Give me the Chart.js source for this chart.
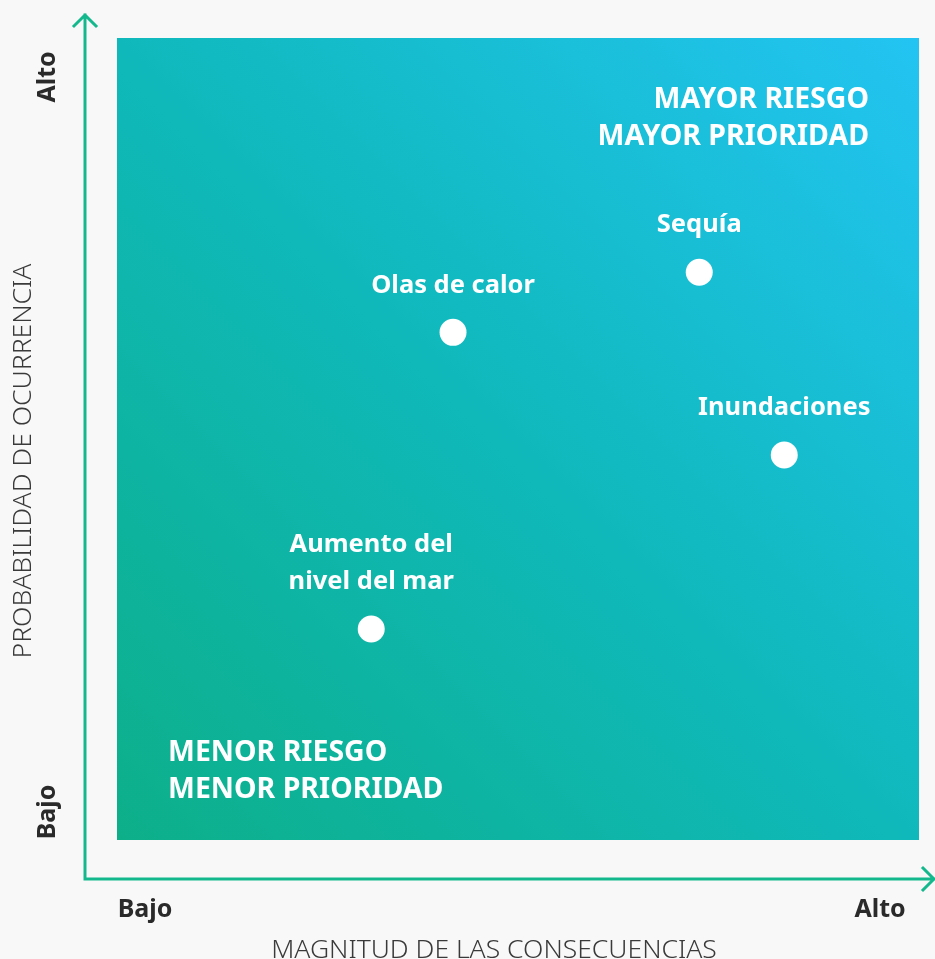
<!DOCTYPE html>
<html>
<head>
<meta charset="utf-8">
<script src="https://cdn.jsdelivr.net/npm/chart.js@4.4.1/dist/chart.umd.min.js"></script>
<style>
html,body{margin:0;padding:0;background:#f8f8f8;}
#wrap{width:935px;height:959px;}
</style>
</head>
<body>
<div id="wrap"><canvas id="riskChart" width="935" height="959"></canvas></div>
<script>
// riesgos: magnitud (x) y probabilidad (y), escala 0-100
const riesgos=[["Sequía"],["Olas de calor"],["Inundaciones"],["Aumento del","nivel del mar"]];
const magnitud=[72.6,41.9,83.2,31.7];
const probabilidad=[70.8,63.3,48.0,26.3];
const extremos=["Bajo","Alto"];
const tituloX="MAGNITUD DE LAS CONSECUENCIAS";
const tituloY="PROBABILIDAD DE OCURRENCIA";
const zonaAlta=["MAYOR RIESGO","MAYOR PRIORIDAD"];
const zonaBaja=["MENOR RIESGO","MENOR PRIORIDAD"];

const FONT='"Noto Sans", "DejaVu Sans", sans-serif';
const VERDE="#13b88c";

const fondo={
id:"fondo",
beforeDatasetsDraw(c){
const a=c.chartArea,ctx=c.ctx;
const g=ctx.createLinearGradient(a.left,a.bottom,a.right,a.top);
g.addColorStop(0,"#0daf89");
g.addColorStop(0.5,"#0fb9bb");
g.addColorStop(1,"#23c4f2");
ctx.save();
ctx.fillStyle=g;
ctx.fillRect(a.left,a.top,a.right-a.left,a.bottom-a.top);
ctx.restore();
}
};

const ejes={
id:"ejes",
afterDraw(c){
const a=c.chartArea,ctx=c.ctx;
const ox=85,oy=879;
ctx.save();
ctx.strokeStyle=VERDE;ctx.lineWidth=3;ctx.lineCap="square";
ctx.beginPath();
ctx.moveTo(ox,oy);ctx.lineTo(ox,15);
ctx.moveTo(ox-11,26);ctx.lineTo(ox,15);ctx.lineTo(ox+11,26);
ctx.moveTo(ox,oy);ctx.lineTo(934,oy);
ctx.moveTo(923,oy-11);ctx.lineTo(934,oy);ctx.lineTo(923,oy+11);
ctx.stroke();

// extremos de los ejes
ctx.fillStyle="#2a2a2a";
ctx.font="bold 25px "+FONT;
ctx.textAlign="center";ctx.textBaseline="middle";
ctx.fillText(extremos[0],145,910);
ctx.fillText(extremos[1],880,910);
ctx.save();
ctx.translate(48,77);ctx.rotate(-Math.PI/2);
ctx.fillText(extremos[1],0,0);
ctx.restore();
ctx.save();
ctx.translate(48,812);ctx.rotate(-Math.PI/2);
ctx.fillText(extremos[0],0,0);
ctx.restore();

// titulos
ctx.fillStyle="#3a3a3a";
ctx.font="300 26.5px "+FONT;
ctx.fillText(tituloX,494,950);
ctx.save();
ctx.translate(23,461);ctx.rotate(-Math.PI/2);
ctx.fillText(tituloY,0,0);
ctx.restore();

// zonas
ctx.fillStyle="#ffffff";
ctx.font="bold 28.5px "+FONT;
ctx.textAlign="right";
zonaAlta.forEach((t,i)=>ctx.fillText(t,869,100+i*37));
ctx.textAlign="left";
zonaBaja.forEach((t,i)=>ctx.fillText(t,168,753+i*37));

// etiquetas de los puntos
ctx.textAlign="center";
ctx.font="bold 25.5px "+FONT;
const meta=c.getDatasetMeta(0);
meta.data.forEach((p,i)=>{
const l=riesgos[i];
l.forEach((t,j)=>ctx.fillText(t,p.x,p.y-47-(l.length-1-j)*37));
});
ctx.restore();
}
};

new Chart(document.getElementById("riskChart"),{
type:"scatter",
data:{datasets:[{
data:magnitud.map((m,i)=>({x:m,y:probabilidad[i]})),
backgroundColor:"#ffffff",
borderWidth:0,
pointRadius:13.5,
pointHoverRadius:13.5
}]},
options:{
responsive:false,
animation:false,
layout:{padding:{left:117,right:16,top:38,bottom:119}},
plugins:{legend:{display:false},tooltip:{enabled:false}},
scales:{
x:{min:0,max:100,display:false},
y:{min:0,max:100,display:false}
}
},
plugins:[fondo,ejes]
});
</script>
</body>
</html>
